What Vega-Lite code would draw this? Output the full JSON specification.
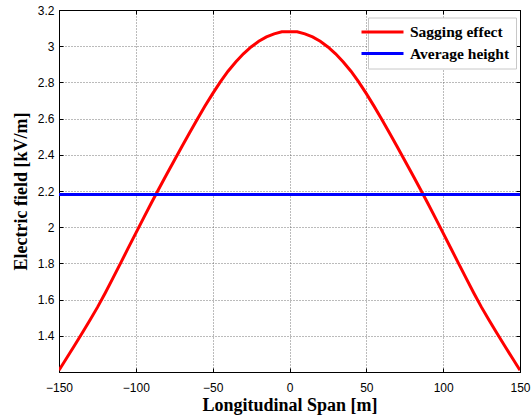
{
  "$schema": "https://vega.github.io/schema/vega-lite/v6.json",
  "width": 461,
  "height": 362,
  "autosize": {"type": "none"},
  "padding": {"left": 59, "top": 10, "right": 11, "bottom": 46},
  "background": "white",
  "config": {
    "view": {"stroke": "black", "strokeWidth": 1},
    "axis": {
      "labelFont": "Liberation Sans",
      "labelFontSize": 12,
      "labelColor": "black",
      "titleFont": "Liberation Serif",
      "titleFontSize": 18,
      "titleFontWeight": "bold",
      "titleColor": "black",
      "domainColor": "black",
      "tickColor": "black",
      "gridColor": "#555",
      "gridDash": [1, 2],
      "gridWidth": 1,
      "gridOpacity": 0.8,
      "labelFlush": false
    }
  },
  "data": {
    "values": [
      {"series": "Sagging effect", "x": -150, "y": 1.21},
      {"series": "Sagging effect", "x": -145, "y": 1.277},
      {"series": "Sagging effect", "x": -140, "y": 1.345},
      {"series": "Sagging effect", "x": -135, "y": 1.414},
      {"series": "Sagging effect", "x": -130, "y": 1.484},
      {"series": "Sagging effect", "x": -125, "y": 1.557},
      {"series": "Sagging effect", "x": -120, "y": 1.635},
      {"series": "Sagging effect", "x": -115, "y": 1.717},
      {"series": "Sagging effect", "x": -110, "y": 1.8},
      {"series": "Sagging effect", "x": -105, "y": 1.884},
      {"series": "Sagging effect", "x": -100, "y": 1.967},
      {"series": "Sagging effect", "x": -95, "y": 2.05},
      {"series": "Sagging effect", "x": -90, "y": 2.132},
      {"series": "Sagging effect", "x": -85, "y": 2.212},
      {"series": "Sagging effect", "x": -80, "y": 2.291},
      {"series": "Sagging effect", "x": -75, "y": 2.369},
      {"series": "Sagging effect", "x": -70, "y": 2.446},
      {"series": "Sagging effect", "x": -65, "y": 2.522},
      {"series": "Sagging effect", "x": -60, "y": 2.597},
      {"series": "Sagging effect", "x": -55, "y": 2.669},
      {"series": "Sagging effect", "x": -50, "y": 2.738},
      {"series": "Sagging effect", "x": -45, "y": 2.803},
      {"series": "Sagging effect", "x": -40, "y": 2.862},
      {"series": "Sagging effect", "x": -35, "y": 2.913},
      {"series": "Sagging effect", "x": -30, "y": 2.958},
      {"series": "Sagging effect", "x": -25, "y": 2.996},
      {"series": "Sagging effect", "x": -20, "y": 3.027},
      {"series": "Sagging effect", "x": -15, "y": 3.051},
      {"series": "Sagging effect", "x": -10, "y": 3.068},
      {"series": "Sagging effect", "x": -5, "y": 3.08},
      {"series": "Sagging effect", "x": 0, "y": 3.08},
      {"series": "Sagging effect", "x": 5, "y": 3.08},
      {"series": "Sagging effect", "x": 10, "y": 3.068},
      {"series": "Sagging effect", "x": 15, "y": 3.051},
      {"series": "Sagging effect", "x": 20, "y": 3.027},
      {"series": "Sagging effect", "x": 25, "y": 2.996},
      {"series": "Sagging effect", "x": 30, "y": 2.958},
      {"series": "Sagging effect", "x": 35, "y": 2.913},
      {"series": "Sagging effect", "x": 40, "y": 2.862},
      {"series": "Sagging effect", "x": 45, "y": 2.803},
      {"series": "Sagging effect", "x": 50, "y": 2.738},
      {"series": "Sagging effect", "x": 55, "y": 2.669},
      {"series": "Sagging effect", "x": 60, "y": 2.597},
      {"series": "Sagging effect", "x": 65, "y": 2.522},
      {"series": "Sagging effect", "x": 70, "y": 2.446},
      {"series": "Sagging effect", "x": 75, "y": 2.369},
      {"series": "Sagging effect", "x": 80, "y": 2.291},
      {"series": "Sagging effect", "x": 85, "y": 2.212},
      {"series": "Sagging effect", "x": 90, "y": 2.132},
      {"series": "Sagging effect", "x": 95, "y": 2.05},
      {"series": "Sagging effect", "x": 100, "y": 1.967},
      {"series": "Sagging effect", "x": 105, "y": 1.884},
      {"series": "Sagging effect", "x": 110, "y": 1.8},
      {"series": "Sagging effect", "x": 115, "y": 1.717},
      {"series": "Sagging effect", "x": 120, "y": 1.635},
      {"series": "Sagging effect", "x": 125, "y": 1.557},
      {"series": "Sagging effect", "x": 130, "y": 1.484},
      {"series": "Sagging effect", "x": 135, "y": 1.414},
      {"series": "Sagging effect", "x": 140, "y": 1.345},
      {"series": "Sagging effect", "x": 145, "y": 1.277},
      {"series": "Sagging effect", "x": 150, "y": 1.21},
      {"series": "Average height", "x": -150, "y": 2.18},
      {"series": "Average height", "x": 150, "y": 2.18}
    ]
  },
  "resolve": {"axis": {"x": "independent", "y": "independent"}},
  "layer": [
    {
      "mark": {"type": "line", "strokeWidth": 3, "clip": true},
      "encoding": {
        "x": {
          "field": "x", "type": "quantitative",
          "scale": {"domain": [-150, 150], "nice": false},
          "axis": {
            "orient": "bottom",
            "title": "Longitudinal Span [m]",
            "values": [-150, -100, -50, 0, 50, 100, 150],
            "grid": true,
            "tickSize": -4,
            "labelPadding": 14,
            "titlePadding": 3
          }
        },
        "y": {
          "field": "y", "type": "quantitative",
          "scale": {"domain": [1.2, 3.2], "nice": false, "zero": false},
          "axis": {
            "orient": "left",
            "title": "Electric field [kV/m]",
            "values": [1.4, 1.6, 1.8, 2, 2.2, 2.4, 2.6, 2.8, 3, 3.2],
            "format": "~g",
            "grid": true,
            "tickSize": -4,
            "labelPadding": 9,
            "titlePadding": 7
          }
        },
        "color": {
          "field": "series", "type": "nominal",
          "scale": {"domain": ["Sagging effect", "Average height"], "range": ["#ff0000", "#0000ff"]},
          "legend": {
            "title": null,
            "orient": "none",
            "legendX": 309,
            "legendY": 7.5,
            "fillColor": "white",
            "strokeColor": "#c8c8c8",
            "padding": 6,
            "symbolType": "M-3,0H3",
            "symbolSize": 196,
            "symbolStrokeWidth": 3,
            "symbolFillColor": "transparent",
            "labelFont": "Liberation Serif",
            "labelFontSize": 15.5,
            "labelFontWeight": "bold",
            "labelColor": "black",
            "rowPadding": 4.5,
            "labelOffset": 19
          }
        }
      }
    },
    {
      "mark": {"type": "point", "opacity": 0},
      "encoding": {
        "x": {
          "field": "x", "type": "quantitative",
          "axis": {
            "orient": "top", "title": null, "labels": false, "grid": false,
            "values": [-150, -100, -50, 0, 50, 100, 150], "tickSize": -4
          }
        },
        "y": {
          "field": "y", "type": "quantitative",
          "axis": {
            "orient": "right", "title": null, "labels": false, "grid": false,
            "values": [1.4, 1.6, 1.8, 2, 2.2, 2.4, 2.6, 2.8, 3, 3.2], "tickSize": -4
          }
        }
      }
    }
  ]
}
